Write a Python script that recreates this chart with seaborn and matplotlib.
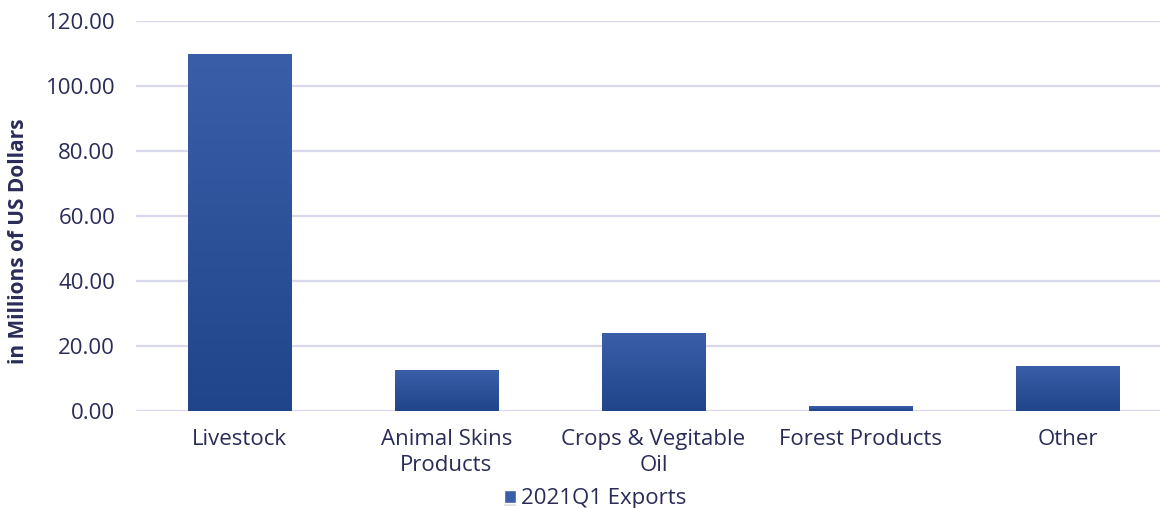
import numpy as np
import pandas as pd
import matplotlib
matplotlib.use("Agg")
import matplotlib.pyplot as plt
import matplotlib.patheffects as pe
from matplotlib.colors import LinearSegmentedColormap
import seaborn as sns

categories = ["Livestock", "Animal Skins\nProducts", "Crops & Vegitable\nOil", "Forest Products", "Other"]
values = [110.0, 12.6, 24.0, 1.5, 13.8]
series_name = "2021Q1 Exports"
y_ticks = [0, 20, 40, 60, 80, 100, 120]

sns.set_style("white")
plt.rcParams['font.family'] = ['Open Sans', 'DejaVu Sans']

text_color = "#2A2C58"
grid_color = "#D8D8EC"
top_color = "#3B5EA9"
bottom_color = "#20458A"

df = pd.DataFrame({"category": categories, "value": values, "series": series_name})

fig = plt.figure(figsize=(11.6, 5.08), dpi=100)
ax = fig.add_axes([136/1160, 1 - 411/508, 1035/1160, (411 - 21)/508])

sns.barplot(data=df, x="category", y="value", hue="series", palette=[top_color],
            width=0.5, ax=ax, zorder=3, saturation=1)

ax.set_ylim(0, 120)
ax.set_yticks(y_ticks)
ax.set_yticklabels([f"{t:.2f}" for t in y_ticks])
for t in y_ticks:
    ax.axhline(t, color=grid_color, lw=1.6, zorder=1)

cmap = LinearSegmentedColormap.from_list("grad", [bottom_color, top_color])
grad = np.linspace(0, 1, 256).reshape(-1, 1)
for p in list(ax.patches):
    p.set_path_effects([pe.SimplePatchShadow(offset=(0, -2), shadow_rgbFace="#000000", alpha=0.12), pe.Normal()])
    bb = p.get_bbox()
    im = ax.imshow(grad, cmap=cmap, origin="lower", aspect="auto",
                   extent=[bb.x0, bb.x1, bb.y0, bb.y1], zorder=4)
    im.set_clip_path(p)
ax.set_xlim(-0.5, len(categories) - 0.5)
ax.set_ylim(0, 120)

for s in ax.spines.values():
    s.set_visible(False)
ax.tick_params(axis="both", length=0, colors=text_color, labelsize=16)
ax.tick_params(axis="y", pad=15)
ax.tick_params(axis="x", pad=13)
for lbl in ax.get_xticklabels():
    lbl.set_linespacing(1.3)
ax.set_xlabel("")
ax.set_ylabel("in Millions of US Dollars", fontsize=15, fontweight="bold", color=text_color)
ax.yaxis.set_label_coords(-107/1035, 0.435)

leg = ax.legend(loc="center", bbox_to_anchor=((595 - 136)/1035, -0.225), frameon=False, fontsize=16,
                handlelength=0.55, handleheight=0.55, handletextpad=0.2, labelcolor=text_color)

fig.savefig("out.png", dpi=100)
